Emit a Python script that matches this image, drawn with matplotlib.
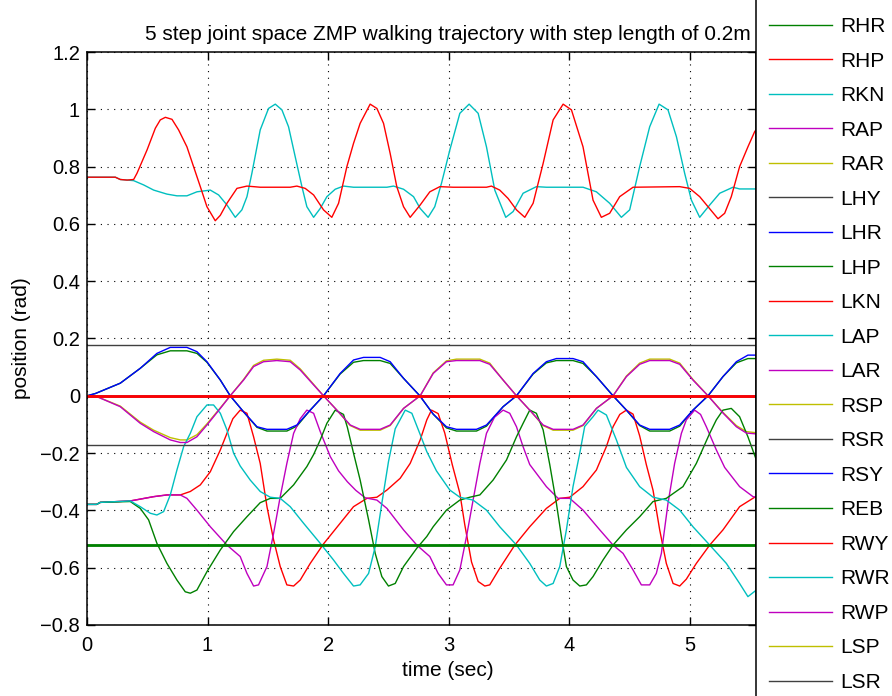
import matplotlib
matplotlib.use('Agg')
import matplotlib.pyplot as plt
from matplotlib.lines import Line2D

plt.rcParams['font.family'] = ['Liberation Sans', 'DejaVu Sans']

# ---------------- data ----------------
joint_names = ['RHY', 'RHR', 'RHP', 'RKN', 'RAP', 'RAR', 'LHY', 'LHR', 'LHP', 'LKN',
               'LAP', 'LAR', 'RSP', 'RSR', 'RSY', 'REB', 'RWY', 'RWR', 'RWP', 'LSP',
               'LSR', 'LSY', 'LEB', 'LWY']
legend_names = joint_names[:21]

# constant joints (rad)
const_vals = {'RHY': 0.0, 'LHY': 0.0, 'RSP': 0.0, 'RSR': -0.170, 'RSY': 0.0, 'REB': -0.52,
              'RWY': 0.0, 'RWR': 0.0, 'RWP': 0.0, 'LSP': 0.0, 'LSR': 0.176, 'LSY': 0.0,
              'LEB': -0.52, 'LWY': 0.0}

# knees
RKN_t = [0, 0.235, 0.276, 0.332, 0.387, 0.470, 0.553, 0.663, 0.746, 0.829, 0.912, 1.023, 1.092, 1.161,
         1.230, 1.285, 1.327, 1.368, 1.437, 1.506, 1.562, 1.617, 1.672, 1.727, 1.783, 1.824, 1.880,
         1.935, 1.990, 2.059, 2.128, 2.211, 2.488, 2.543, 2.626, 2.709, 2.764, 2.830, 2.885, 2.941,
         3.010, 3.093, 3.170, 3.245, 3.314, 3.383, 3.474, 3.535, 3.618, 3.728, 3.811, 4.115, 4.226,
         4.336, 4.433, 4.502, 4.585, 4.668, 4.746, 4.820, 4.890, 4.958, 5.014, 5.083, 5.166, 5.249,
         5.359, 5.414, 5.553]
RKN_v = [0.763, 0.763, 0.755, 0.753, 0.751, 0.736, 0.718, 0.704, 0.698, 0.698, 0.712, 0.718, 0.701, 0.666,
         0.623, 0.649, 0.695, 0.777, 0.928, 1.003, 1.018, 0.998, 0.939, 0.835, 0.730, 0.660, 0.623,
         0.654, 0.695, 0.721, 0.732, 0.728, 0.728, 0.732, 0.721, 0.695, 0.654, 0.623, 0.660, 0.742,
         0.858, 0.986, 1.018, 0.986, 0.869, 0.718, 0.623, 0.643, 0.707, 0.730, 0.728, 0.728, 0.712,
         0.672, 0.623, 0.649, 0.800, 0.939, 1.018, 0.998, 0.904, 0.777, 0.683, 0.623, 0.666, 0.707,
         0.728, 0.722, 0.722]

LKN_t = [0, 0.235, 0.276, 0.332, 0.387, 0.415, 0.498, 0.567, 0.608, 0.650, 0.705, 0.760, 0.829, 0.884,
         0.940, 0.995, 1.064, 1.106, 1.161, 1.244, 1.327, 1.437, 1.686, 1.741, 1.810, 1.880, 1.962,
         2.031, 2.087, 2.156, 2.211, 2.266, 2.349, 2.405, 2.460, 2.515, 2.570, 2.626, 2.681, 2.764,
         2.844, 2.927, 3.037, 3.314, 3.355, 3.424, 3.493, 3.563, 3.632, 3.701, 3.784, 3.867, 3.950,
         4.019, 4.115, 4.198, 4.267, 4.336, 4.419, 4.530, 4.917, 5.000, 5.083, 5.152, 5.235, 5.290,
         5.345, 5.414, 5.483, 5.539, 5.553]
LKN_v = [0.763, 0.763, 0.755, 0.753, 0.755, 0.777, 0.858, 0.934, 0.963, 0.972, 0.965, 0.928, 0.869, 0.800,
         0.730, 0.660, 0.611, 0.630, 0.672, 0.724, 0.732, 0.728, 0.728, 0.732, 0.724, 0.701, 0.649,
         0.623, 0.672, 0.800, 0.881, 0.951, 1.018, 1.003, 0.951, 0.846, 0.730, 0.660, 0.623, 0.666,
         0.712, 0.730, 0.728, 0.728, 0.732, 0.718, 0.689, 0.649, 0.623, 0.672, 0.811, 0.963, 1.018,
         0.998, 0.869, 0.683, 0.623, 0.637, 0.695, 0.728, 0.730, 0.724, 0.695, 0.660, 0.618, 0.637,
         0.695, 0.800, 0.869, 0.922, 0.930]

# hip / ankle roll
LHR_t = [0, 0.07, 0.276, 0.442, 0.580, 0.691, 0.829, 0.912, 0.995, 1.106, 1.188, 1.299, 1.410, 1.493,
         1.658, 1.741, 1.852, 1.962, 2.100, 2.211, 2.294, 2.432, 2.515, 2.626, 2.761, 2.872, 2.982,
         3.065, 3.231, 3.314, 3.452, 3.563, 3.701, 3.811, 3.894, 4.032, 4.115, 4.226, 4.364, 4.475,
         4.585, 4.668, 4.834, 4.917, 5.027, 5.152, 5.276, 5.387, 5.483, 5.553]
LHR_v = [0, 0.008, 0.044, 0.096, 0.148, 0.169, 0.169, 0.154, 0.119, 0.055, 0.0, -0.056, -0.108, -0.117,
         -0.117, -0.102, -0.050, 0.0, 0.078, 0.125, 0.134, 0.134, 0.119, 0.061, 0.0, -0.064, -0.108,
         -0.117, -0.117, -0.102, -0.038, 0.0, 0.078, 0.119, 0.130, 0.130, 0.119, 0.067, 0.0, -0.050,
         -0.102, -0.117, -0.117, -0.102, -0.050, 0.0, 0.067, 0.119, 0.142, 0.142]

RHR_t = LHR_t
RHR_v = [0, 0.008, 0.044, 0.096, 0.143, 0.157, 0.157, 0.148, 0.117, 0.055, 0.0, -0.056, -0.110, -0.123,
         -0.123, -0.106, -0.050, 0.0, 0.076, 0.117, 0.123, 0.123, 0.113, 0.061, 0.0, -0.064, -0.112,
         -0.123, -0.123, -0.106, -0.038, 0.0, 0.076, 0.115, 0.123, 0.123, 0.113, 0.067, 0.0, -0.050,
         -0.104, -0.123, -0.123, -0.106, -0.050, 0.0, 0.067, 0.115, 0.130, 0.130]

LAR_t = [0, 0.083, 0.276, 0.442, 0.553, 0.691, 0.774, 0.829, 0.912, 0.995, 1.106, 1.188, 1.299, 1.382,
         1.465, 1.575, 1.686, 1.769, 1.880, 1.962, 2.073, 2.184, 2.266, 2.432, 2.515, 2.626, 2.764,
         2.872, 2.982, 3.065, 3.259, 3.341, 3.452, 3.563, 3.673, 3.784, 3.867, 4.032, 4.115, 4.226,
         4.364, 4.475, 4.585, 4.668, 4.834, 4.917, 5.027, 5.152, 5.276, 5.387, 5.470, 5.553]
LAR_v = [0, -0.003, -0.038, -0.096, -0.125, -0.154, -0.163, -0.163, -0.143, -0.102, -0.044, 0.0, 0.055,
         0.102, 0.119, 0.123, 0.119, 0.090, 0.038, 0.0, -0.050, -0.102, -0.117, -0.117, -0.102, -0.044,
         0.0, 0.078, 0.119, 0.123, 0.123, 0.110, 0.055, 0.0, -0.050, -0.102, -0.117, -0.117, -0.102,
         -0.044, 0.0, 0.067, 0.110, 0.123, 0.123, 0.110, 0.055, 0.0, -0.060, -0.108, -0.130, -0.133]

RAR_t = LAR_t
RAR_v = [0, -0.003, -0.036, -0.092, -0.120, -0.146, -0.154, -0.154, -0.136, -0.098, -0.042, 0.0, 0.057,
         0.106, 0.124, 0.128, 0.124, 0.094, 0.040, 0.0, -0.050, -0.104, -0.120, -0.120, -0.104, -0.044,
         0.0, 0.080, 0.122, 0.128, 0.128, 0.114, 0.055, 0.0, -0.050, -0.104, -0.120, -0.120, -0.104,
         -0.044, 0.0, 0.069, 0.114, 0.128, 0.128, 0.114, 0.057, 0.0, -0.058, -0.104, -0.125, -0.129]

# hip / ankle pitch
RHP_t = [0, 0.08, 0.11, 0.359, 0.553, 0.663, 0.774, 0.857, 0.940, 1.023, 1.106, 1.161, 1.210, 1.271,
         1.327, 1.382, 1.437, 1.493, 1.548, 1.603, 1.658, 1.714, 1.769, 1.852, 1.962, 2.100, 2.211,
         2.322, 2.405, 2.488, 2.598, 2.681, 2.764, 2.819, 2.858, 2.913, 2.968, 3.030, 3.093, 3.134,
         3.190, 3.245, 3.300, 3.341, 3.424, 3.549, 3.673, 3.811, 3.922, 4.005, 4.115, 4.226, 4.309,
         4.364, 4.420, 4.475, 4.530, 4.585, 4.640, 4.696, 4.751, 4.806, 4.862, 4.917, 4.972, 5.055,
         5.166, 5.276, 5.414, 5.539, 5.553]
RHP_v = [-0.379, -0.379, -0.372, -0.367, -0.352, -0.346, -0.346, -0.334, -0.311, -0.265, -0.189, -0.131,
         -0.080, -0.050, -0.061, -0.143, -0.236, -0.387, -0.503, -0.596, -0.660, -0.664, -0.643, -0.585,
         -0.517, -0.445, -0.387, -0.358, -0.354, -0.329, -0.288, -0.236, -0.154, -0.084, -0.050, -0.062,
         -0.130, -0.240, -0.340, -0.450, -0.580, -0.648, -0.664, -0.660, -0.602, -0.521, -0.457, -0.393,
         -0.358, -0.354, -0.317, -0.259, -0.177, -0.108, -0.065, -0.050, -0.064, -0.140, -0.240, -0.330,
         -0.468, -0.585, -0.655, -0.664, -0.640, -0.585, -0.521, -0.468, -0.387, -0.354, -0.354]

RAP_t = [0, 0.08, 0.11, 0.359, 0.553, 0.663, 0.774, 0.829, 0.912, 1.023, 1.161, 1.271, 1.327, 1.382,
         1.423, 1.493, 1.548, 1.603, 1.658, 1.714, 1.769, 1.824, 1.880, 1.935, 2.018, 2.087, 2.160,
         2.230, 2.308, 2.405, 2.488, 2.626, 2.736, 2.844, 2.913, 2.982, 3.037, 3.093, 3.148, 3.203,
         3.259, 3.314, 3.380, 3.452, 3.507, 3.563, 3.618, 3.673, 3.811, 3.908, 4.005, 4.115, 4.254,
         4.364, 4.447, 4.530, 4.599, 4.668, 4.723, 4.765, 4.820, 4.875, 4.931, 4.972, 5.041, 5.090,
         5.138, 5.221, 5.290, 5.414, 5.525, 5.553]
RAP_v = [-0.379, -0.379, -0.372, -0.367, -0.352, -0.346, -0.346, -0.358, -0.399, -0.457, -0.521, -0.561,
         -0.620, -0.664, -0.660, -0.596, -0.480, -0.352, -0.236, -0.131, -0.080, -0.050, -0.061, -0.125,
         -0.212, -0.262, -0.300, -0.330, -0.356, -0.364, -0.393, -0.468, -0.521, -0.561, -0.620, -0.660,
         -0.660, -0.608, -0.492, -0.364, -0.236, -0.131, -0.075, -0.050, -0.061, -0.108, -0.178, -0.240,
         -0.317, -0.358, -0.358, -0.399, -0.468, -0.521, -0.550, -0.608, -0.660, -0.660, -0.620, -0.550,
         -0.375, -0.236, -0.131, -0.084, -0.050, -0.065, -0.108, -0.189, -0.250, -0.317, -0.352, -0.354]

LHP_t = [0, 0.08, 0.11, 0.359, 0.442, 0.511, 0.580, 0.663, 0.746, 0.815, 0.857, 0.912, 0.995, 1.106,
         1.216, 1.327, 1.437, 1.520, 1.603, 1.714, 1.824, 1.880, 1.935, 1.990, 2.059, 2.128, 2.160,
         2.211, 2.266, 2.336, 2.391, 2.446, 2.501, 2.557, 2.626, 2.736, 2.819, 2.872, 2.982, 3.093,
         3.176, 3.259, 3.369, 3.480, 3.563, 3.618, 3.673, 3.728, 3.784, 3.839, 3.894, 3.936, 3.977,
         4.032, 4.088, 4.143, 4.198, 4.281, 4.364, 4.475, 4.585, 4.696, 4.806, 4.944, 5.055, 5.166,
         5.221, 5.276, 5.345, 5.414, 5.483, 5.553]
LHP_v = [-0.379, -0.379, -0.372, -0.369, -0.393, -0.433, -0.515, -0.585, -0.643, -0.684, -0.689, -0.678,
         -0.614, -0.538, -0.474, -0.422, -0.373, -0.358, -0.358, -0.311, -0.247, -0.205, -0.154, -0.096,
         -0.050, -0.065, -0.110, -0.200, -0.294, -0.433, -0.550, -0.631, -0.664, -0.655, -0.596, -0.532,
         -0.491, -0.457, -0.399, -0.364, -0.354, -0.346, -0.294, -0.224, -0.143, -0.096, -0.050, -0.061,
         -0.119, -0.240, -0.375, -0.492, -0.596, -0.643, -0.664, -0.660, -0.631, -0.573, -0.521, -0.468,
         -0.422, -0.369, -0.358, -0.317, -0.236, -0.131, -0.084, -0.050, -0.044, -0.073, -0.143, -0.224]

LAP_t = [0, 0.08, 0.11, 0.359, 0.442, 0.525, 0.580, 0.636, 0.691, 0.746, 0.802, 0.857, 0.912, 0.995,
         1.050, 1.106, 1.161, 1.216, 1.271, 1.354, 1.437, 1.520, 1.603, 1.686, 1.797, 1.935, 2.045,
         2.128, 2.211, 2.266, 2.336, 2.391, 2.446, 2.501, 2.557, 2.640, 2.695, 2.764, 2.819, 2.899,
         3.010, 3.093, 3.203, 3.314, 3.424, 3.563, 3.673, 3.756, 3.811, 3.867, 3.922, 3.977, 4.032,
         4.088, 4.129, 4.198, 4.240, 4.309, 4.392, 4.475, 4.585, 4.696, 4.806, 4.917, 5.027, 5.166,
         5.304, 5.414, 5.483, 5.553]
LAP_v = [-0.379, -0.379, -0.372, -0.367, -0.387, -0.410, -0.416, -0.404, -0.346, -0.259, -0.177, -0.131,
         -0.073, -0.032, -0.032, -0.061, -0.119, -0.200, -0.245, -0.294, -0.334, -0.354, -0.358, -0.387,
         -0.445, -0.515, -0.573, -0.620, -0.664, -0.660, -0.620, -0.527, -0.375, -0.230, -0.115, -0.050,
         -0.061, -0.135, -0.195, -0.262, -0.329, -0.354, -0.364, -0.399, -0.457, -0.521, -0.585, -0.643,
         -0.664, -0.655, -0.596, -0.468, -0.317, -0.200, -0.107, -0.073, -0.050, -0.067, -0.154, -0.250,
         -0.317, -0.354, -0.364, -0.399, -0.457, -0.521, -0.585, -0.655, -0.701, -0.678]

curves = {'RHR': (RHR_t, RHR_v), 'RHP': (RHP_t, RHP_v), 'RKN': (RKN_t, RKN_v),
          'RAP': (RAP_t, RAP_v), 'RAR': (RAR_t, RAR_v), 'LHR': (LHR_t, LHR_v),
          'LHP': (LHP_t, LHP_v), 'LKN': (LKN_t, LKN_v), 'LAP': (LAP_t, LAP_v),
          'LAR': (LAR_t, LAR_v)}

x_ticks = [0, 1, 2, 3, 4, 5]
y_ticks = [-0.8, -0.6, -0.4, -0.2, 0, 0.2, 0.4, 0.6, 0.8, 1.0, 1.2]
y_tick_labels = ['\u22120.8', '\u22120.6', '\u22120.4', '\u22120.2', '0', '0.2', '0.4', '0.6', '0.8', '1', '1.2']
title = '5 step joint space ZMP walking trajectory with step length of 0.2m'

# ---------------- styling ----------------
cycle = [(0, 0, 1), (0, 0.5, 0), (1, 0, 0), (0, 0.75, 0.75), (0.75, 0, 0.75), (0.75, 0.75, 0),
         (0.25, 0.25, 0.25)]
thick = {'LEB', 'LWY'}

W, H = 892, 696
fig = plt.figure(figsize=(W / 100, H / 100), dpi=100)
ax = fig.add_axes([87 / W, 1 - 625 / H, 669 / W, 573 / H])

t_end = max(max(v[0]) for v in curves.values())
handles = {}
for i, name in enumerate(joint_names):
    col = cycle[i % 7]
    if name in curves:
        t, v = curves[name]
    else:
        t, v = [0.0, t_end], [const_vals[name], const_vals[name]]
    ax.plot(t, v, color=col, lw=2.0 if name in thick else 1.0, solid_joinstyle='round')
    handles[name] = Line2D([], [], color=col, lw=1.0)

ax.set_xlim(0, 5.55)
ax.set_ylim(-0.8, 1.2)
ax.set_xticks(x_ticks)
ax.set_xticklabels([str(x) for x in x_ticks])
ax.set_yticks(y_ticks)
ax.set_yticklabels(y_tick_labels)
ax.tick_params(direction='in', length=6, width=1, top=True, right=True, labelsize=14.5)
ax.tick_params(axis='y', pad=5)
ax.tick_params(axis='x', pad=8)
ax.grid(True, color='black', linestyle=(0, (1, 5)), linewidth=0.8)
for s in ax.spines.values():
    s.set_linewidth(1.1)

ax.set_xlabel('time (sec)', fontsize=15)
ax.xaxis.set_label_coords((448 - 87) / 669, -0.063)
ax.set_ylabel('position (rad)', fontsize=15)
ax.yaxis.set_label_coords(-0.0837, 0.5)

fig.text(448 / W, 1 - 34 / H, title, ha='center', va='center', fontsize=15)

leg = fig.legend([handles[n] for n in legend_names], legend_names, loc='upper left',
                 bbox_to_anchor=(756 / W, 1 + 30 / H), bbox_transform=fig.transFigure,
                 fontsize=15, handlelength=3.07, handletextpad=0.35, borderpad=0.6,
                 labelspacing=0.745, borderaxespad=0, fancybox=False, framealpha=1,
                 edgecolor='black')
leg.get_frame().set_linewidth(1.1)

fig.savefig('out.png', dpi=100)
